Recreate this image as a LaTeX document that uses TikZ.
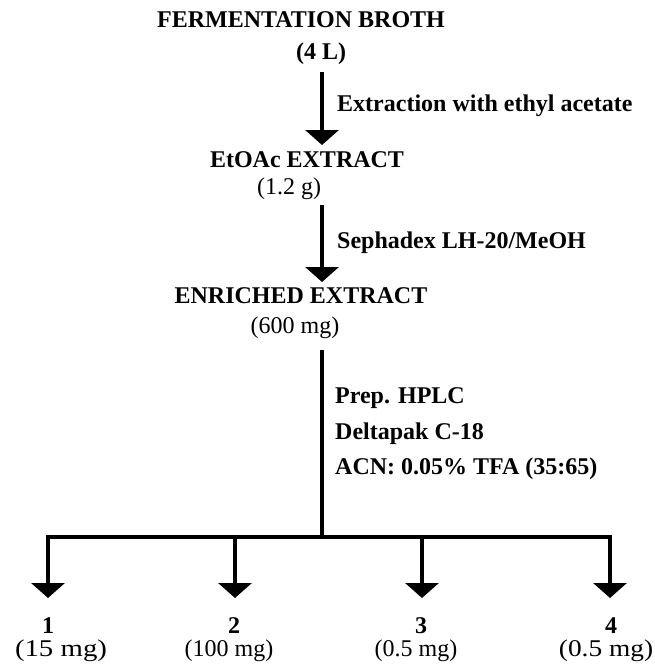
\documentclass[tikz,border=0pt]{standalone}
\usepackage{fontspec}
\setmainfont{Liberation Serif}
\usetikzlibrary{arrows.meta}
\begin{document}
\begin{tikzpicture}[x=1pt,y=-1pt,
  lbl/.style={inner sep=0pt, anchor=base, font=\fontsize{24}{28}\selectfont},
  hd/.style={inner sep=0pt, anchor=base, font=\fontsize{24}{28}\selectfont\bfseries},
  side/.style={inner sep=0pt, anchor=base west, font=\fontsize{24}{28}\selectfont\bfseries},
  flow/.style={line width=4pt, -{Triangle[width=33pt,length=15pt]}},
  bar/.style={line width=4pt, line cap=rect}]
\useasboundingbox (0,0) rectangle (655,666);
% texts
\node[hd]  (broth)  at (301,28)  {FERMENTATION BROTH};
\node[hd]  (brothq) at (321,60)  {(4 L)};
\node[side] (ext)   at (337,112) {Extraction with ethyl acetate};
\node[hd]  (etoac)  at (307,167) {EtOAc EXTRACT};
\node[lbl] (etoacq) at (289,194) {(1.2 g)};
\node[side] (seph)  at (337,248) {Sephadex LH-20/MeOH};
\node[hd]  (enr)    at (301,303) {ENRICHED EXTRACT};
\node[lbl] (enrq)   at (295,333) {(600 mg)};
\node[side] (hplca) at (335,403) {Prep. HPLC};
\node[side] (hplcb) at (335,439) {Deltapak C-18};
\node[side] (hplcc) at (335,474) {ACN: 0.05\% TFA (35:65)};
\node[hd]  (p1)  at (48,633)  {1};
\node[lbl] (p1q) at (61,656)  {\scalebox{1.2}[1]{(15 mg)}};
\node[hd]  (p2)  at (234,633) {2};
\node[lbl] (p2q) at (229,656) {(100 mg)};
\node[hd]  (p3)  at (421,633) {3};
\node[lbl] (p3q) at (416,656) {(0.5 mg)};
\node[hd]  (p4)  at (611,633) {4};
\node[lbl] (p4q) at (606,656) {\scalebox{1.14}[1]{(0.5 mg)}};
% connector end points
\coordinate (a1s) at (322,72);
\coordinate (a1e) at (322,145);
\coordinate (a2s) at (322,205);
\coordinate (a2e) at (322,282);
\coordinate (ss)  at (322,352);
\coordinate (sj)  at (322,537);
\coordinate (bl)  at (48,537);
\coordinate (bc2) at (235,537);
\coordinate (bc3) at (422,537);
\coordinate (br)  at (610,537);
\coordinate (t1) at (48,598);
\coordinate (t2) at (235,598);
\coordinate (t3) at (422,598);
\coordinate (t4) at (610,598);
% connectors
\draw[flow] (a1s) -- (a1e);
\draw[flow] (a2s) -- (a2e);
\draw[bar] (ss) -- (sj);
\draw[bar] (bl) -- (br);
\draw[flow] (bl) -- (t1);
\draw[flow] (bc2) -- (t2);
\draw[flow] (bc3) -- (t3);
\draw[flow] (br) -- (t4);
\end{tikzpicture}
\end{document}
